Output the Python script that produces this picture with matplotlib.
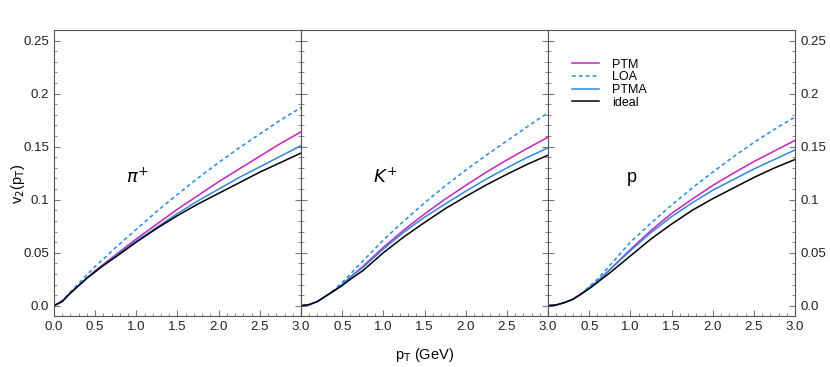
import numpy as np
import matplotlib
matplotlib.use('Agg')
import matplotlib.pyplot as plt
from matplotlib.ticker import MultipleLocator

plt.rcParams['font.family'] = ['Liberation Sans', 'DejaVu Sans']

pt = [0.0, 0.1, 0.2, 0.3, 0.4, 0.5, 0.6, 0.75, 1.0, 1.25, 1.5, 1.75, 2.0, 2.25, 2.5, 2.75, 3.0]

# pi+
pi_ptm = [0.0, 0.004, 0.012, 0.019, 0.026, 0.033, 0.039, 0.048, 0.063, 0.077, 0.091, 0.104, 0.117, 0.129, 0.141, 0.153, 0.164]
pi_loa = [0.0, 0.005, 0.013, 0.021, 0.029, 0.037, 0.044, 0.055, 0.072, 0.089, 0.105, 0.1205, 0.135, 0.149, 0.162, 0.175, 0.187]
pi_ptma = [0.0, 0.004, 0.012, 0.019, 0.026, 0.032, 0.038, 0.047, 0.061, 0.074, 0.087, 0.099, 0.110, 0.121, 0.131, 0.141, 0.151]
pi_ideal = [0.0, 0.004, 0.012, 0.019, 0.026, 0.032, 0.038, 0.046, 0.060, 0.073, 0.085, 0.096, 0.106, 0.116, 0.126, 0.135, 0.144]

# K+
k_ptm = [0.0, 0.001, 0.004, 0.009, 0.014, 0.020, 0.027, 0.037, 0.055, 0.0715, 0.0865, 0.1005, 0.1135, 0.126, 0.1375, 0.1485, 0.159]
k_loa = [0.0, 0.001, 0.004, 0.009, 0.015, 0.022, 0.030, 0.042, 0.062, 0.080, 0.097, 0.113, 0.128, 0.142, 0.1555, 0.169, 0.182]
k_ptma = [0.0, 0.001, 0.004, 0.009, 0.014, 0.020, 0.027, 0.036, 0.0535, 0.0695, 0.0835, 0.096, 0.108, 0.1195, 0.130, 0.140, 0.149]
k_ideal = [0.0, 0.001, 0.004, 0.009, 0.014, 0.019, 0.025, 0.033, 0.050, 0.065, 0.0785, 0.0915, 0.103, 0.114, 0.124, 0.1335, 0.142]

# p
p_ptm = [0.0, 0.0007, 0.003, 0.006, 0.011, 0.017, 0.023, 0.034, 0.053, 0.071, 0.087, 0.1005, 0.1135, 0.125, 0.136, 0.146, 0.156]
p_loa = [0.0, 0.0007, 0.003, 0.006, 0.011, 0.018, 0.025, 0.038, 0.060, 0.078, 0.095, 0.111, 0.126, 0.1405, 0.154, 0.1665, 0.178]
p_ptma = [0.0, 0.0007, 0.003, 0.006, 0.011, 0.017, 0.023, 0.034, 0.052, 0.069, 0.084, 0.097, 0.109, 0.119, 0.129, 0.138, 0.147]
p_ideal = [0.0, 0.0007, 0.003, 0.006, 0.011, 0.016, 0.022, 0.031, 0.047, 0.063, 0.077, 0.090, 0.101, 0.111, 0.121, 0.130, 0.138]

panels = [
    (r'$\pi^{+}$', pi_ptm, pi_loa, pi_ptma, pi_ideal),
    (r'$K^{+}$', k_ptm, k_loa, k_ptma, k_ideal),
    ('p', p_ptm, p_loa, p_ptma, p_ideal),
]

fig, axes = plt.subplots(1, 3, figsize=(8.3, 3.67), dpi=100, sharey=True)
fig.subplots_adjust(left=0.065, right=0.958, top=0.918, bottom=0.139, wspace=0)

for i, (ax, (lab, ptm, loa, ptma, ideal)) in enumerate(zip(axes, panels)):
    ax.plot(pt, ptm, color='#cc1fc4', lw=1.1, label='PTM')
    ax.plot(pt, loa, color='#1e8cf0', lw=1.1, ls=(0, (2.5, 2)), label='LOA')
    ax.plot(pt, ptma, color='#2a8ae6', lw=1.1, label='PTMA')
    ax.plot(pt, ideal, color='black', lw=1.1, label='ideal')
    ax.set_xlim(0, 3.0)
    ax.set_ylim(-0.0097, 0.26)
    ax.xaxis.set_major_locator(MultipleLocator(0.5))
    ax.xaxis.set_minor_locator(MultipleLocator(0.1))
    ax.yaxis.set_major_locator(MultipleLocator(0.05))
    ax.yaxis.set_minor_locator(MultipleLocator(0.01))
    ax.tick_params(which='both', direction='in', left=True, right=True, color='#777777',
                   labelsize=9.5, labelcolor='#222222')
    ax.tick_params(which='major', length=4.5)
    ax.tick_params(which='minor', length=2.5)
    for s in ax.spines.values():
        s.set_color('#555555')
    ax.text(0.34, 0.486, lab, transform=ax.transAxes, fontsize=13, ha='center', va='center')
    ticks = [0.0, 0.5, 1.0, 1.5, 2.0, 2.5, 3.0]
    ax.set_xticks(ticks)
    if i == 0:
        ax.set_xticklabels(['%.1f' % t for t in ticks])
    else:
        ax.set_xticklabels([''] + ['%.1f' % t for t in ticks[1:]])

axes[0].set_yticks([0.0, 0.05, 0.1, 0.15, 0.2, 0.25])
axes[0].set_yticklabels(['0.0', '0.05', '0.1', '0.15', '0.2', '0.25'])
axes[2].tick_params(labelright=True)

axes[2].legend(loc='upper left', bbox_to_anchor=(0.06, 0.93), frameon=False, fontsize=9,
               handlelength=2.2, labelspacing=0.05, handletextpad=1.0, borderpad=0.2)

fig.text(0.022, 0.5, r'v$_2$(p$_{\rm T}$)', rotation=90, ha='center', va='center', fontsize=10.5)
fig.text(0.512, 0.022, r'p$_{\rm T}$ (GeV)', ha='center', fontsize=10.5)

fig.savefig('out.png', dpi=100)
